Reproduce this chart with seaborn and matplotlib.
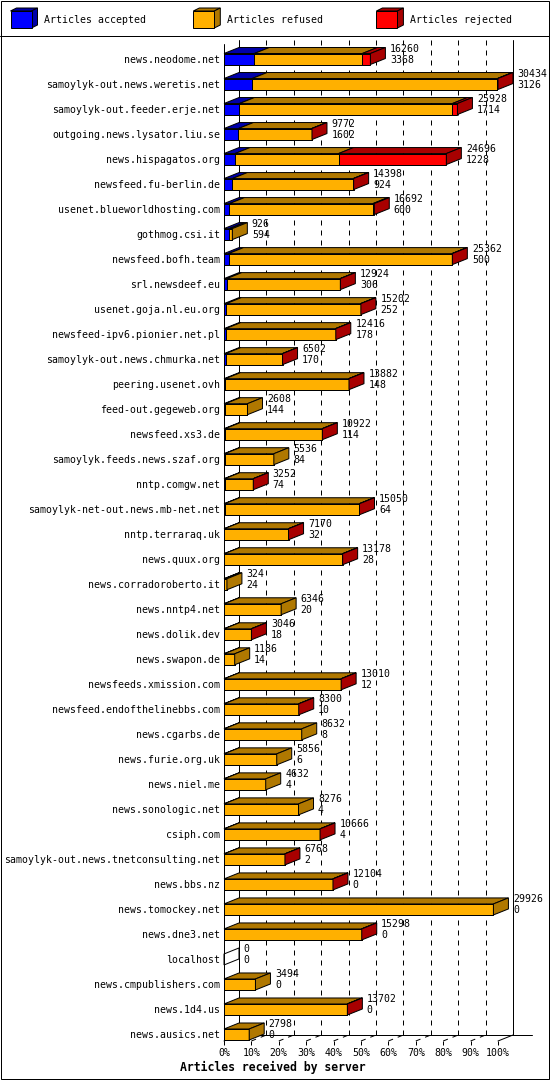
import numpy as np
import pandas as pd
import matplotlib
matplotlib.use("Agg")
import matplotlib.pyplot as plt
import seaborn as sns
from matplotlib.patches import Polygon, Rectangle

# ---------------- data ----------------
servers = [
    "news.neodome.net", "samoylyk-out.news.weretis.net", "samoylyk-out.feeder.erje.net",
    "outgoing.news.lysator.liu.se", "news.hispagatos.org", "newsfeed.fu-berlin.de",
    "usenet.blueworldhosting.com", "gothmog.csi.it", "newsfeed.bofh.team", "srl.newsdeef.eu",
    "usenet.goja.nl.eu.org", "newsfeed-ipv6.pionier.net.pl", "samoylyk-out.news.chmurka.net",
    "peering.usenet.ovh", "feed-out.gegeweb.org", "newsfeed.xs3.de",
    "samoylyk.feeds.news.szaf.org", "nntp.comgw.net", "samoylyk-net-out.news.mb-net.net",
    "nntp.terraraq.uk", "news.quux.org", "news.corradoroberto.it", "news.nntp4.net",
    "news.dolik.dev", "news.swapon.de", "newsfeeds.xmission.com", "newsfeed.endofthelinebbs.com",
    "news.cgarbs.de", "news.furie.org.uk", "news.niel.me", "news.sonologic.net", "csiph.com",
    "samoylyk-out.news.tnetconsulting.net", "news.bbs.nz", "news.tomockey.net", "news.dne3.net",
    "localhost", "news.cmpublishers.com", "news.1d4.us", "news.ausics.net",
]
totals = [16260, 30434, 25928, 9772, 24696, 14398, 16692, 926, 25362, 12924,
          15202, 12416, 6502, 13882, 2608, 10922, 5536, 3252, 15050, 7170,
          13178, 324, 6346, 3046, 1186, 13010, 8300, 8632, 5856, 4632,
          8276, 10666, 6768, 12104, 29926, 15298, 0, 3494, 13702, 2798]
accepted = [3368, 3126, 1714, 1602, 1228, 924, 600, 594, 500, 306,
            252, 178, 170, 148, 144, 114, 84, 74, 64, 32,
            28, 24, 20, 18, 14, 12, 10, 8, 6, 4,
            4, 4, 2, 0, 0, 0, 0, 0, 0, 0]
rejected = [900, 60, 560, 30, 11970, 40, 150, 0, 40, 30,
            30, 30, 20, 30, 0, 20, 0, 10, 30, 20,
            20, 0, 0, 10, 0, 20, 10, 0, 0, 0,
            0, 10, 10, 20, 0, 20, 0, 0, 20, 0]
tick_labels = ["0%", "10%", "20%", "30%", "40%", "50%", "60%", "70%", "80%", "90%", "100%"]
legend_labels = ["Articles accepted", "Articles refused", "Articles rejected"]
x_title = "Articles received by server"

# ---------------- style ----------------
BLUE, BLUE_D = "#0000FF", "#0000A8"
ORANGE, ORANGE_D = "#FFB000", "#B07800"
RED, RED_D = "#FF0000", "#A80000"

W, H, DPI = 550, 1080, 100
PT = 72.0 / DPI  # points per pixel
sns.set_theme(style="white")
plt.rcParams["font.family"] = ["DejaVu Sans Mono"]
plt.rcParams["lines.scale_dashes"] = False
FS = 7.1

df = pd.DataFrame({"server": servers, "total": totals,
                   "accepted": accepted, "rejected": rejected})
df["refused"] = df["total"] - df["accepted"] - df["rejected"]
scale = 100.0 / df["total"].max()
df["acc_pct"] = df["accepted"] * scale
df["ar_pct"] = (df["accepted"] + df["refused"]) * scale
df["tot_pct"] = df["total"] * scale

fig = plt.figure(figsize=(W / DPI, H / DPI), dpi=DPI)
fig.patch.set_facecolor("white")


def fx(px):
    return px / W


def fy(py):
    return 1 - py / H


AX_L, AX_R, AX_T, AX_B = 224, 498, 40, 1041
ax = fig.add_axes([fx(AX_L), fy(AX_B), (AX_R - AX_L) / W, (AX_B - AX_T) / H])
ax.set_facecolor("none")

n = len(servers)
Y0, Y1 = n - 1 + 0.26, -0.76
sx = (AX_R - AX_L) / 100.0          # px per percent
sy = (AX_B - AX_T) / (Y0 - Y1)      # px per row
DX = 15 / sx
DY = 6 / sy
BAR_H = 11 / sy
LW = 1 * PT

# front faces via seaborn (stacked by overlay)
common = dict(y="server", order=servers, orient="h", width=BAR_H, saturation=1,
              edgecolor="black", linewidth=LW, errorbar=None, ax=ax, zorder=3)
sns.barplot(data=df, x="tot_pct", color=RED, **common)
sns.barplot(data=df, x="ar_pct", color=ORANGE, **common)
sns.barplot(data=df, x="acc_pct", color=BLUE, **common)

# 3D top and side faces
for i, row in df.iterrows():
    yt, yb = i - BAR_H / 2, i + BAR_H / 2
    segs = [(0, row.acc_pct, BLUE_D), (row.acc_pct, row.ar_pct, ORANGE_D),
            (row.ar_pct, row.tot_pct, RED_D)]
    last = None
    for x0, x1, c in segs:
        if x1 - x0 > 0:
            ax.add_patch(Polygon([(x0, yt), (x1, yt), (x1 + DX, yt - DY), (x0 + DX, yt - DY)],
                                 closed=True, facecolor=c, edgecolor="black", lw=LW,
                                 zorder=3, clip_on=False))
            last = c
    xe = row.tot_pct
    ax.add_patch(Polygon([(xe, yt), (xe + DX, yt - DY), (xe + DX, yb - DY), (xe, yb)],
                         closed=True, facecolor=last if last else "white",
                         edgecolor="black", lw=LW, zorder=3, clip_on=False))
    # value labels
    ax.annotate(f"{row.total}", xy=(xe + DX, i), xytext=(4.5 * PT, 10 * PT),
                textcoords="offset points", ha="left", va="center", fontsize=FS,
                color="black", zorder=5, annotation_clip=False)
    ax.annotate(f"{row.accepted}", xy=(xe + DX, i), xytext=(4.5 * PT, -0.5 * PT),
                textcoords="offset points", ha="left", va="center", fontsize=FS,
                color="black", zorder=5, annotation_clip=False)

# walls, grid and floor
y_back_floor = Y0 - DY
dash = (0, (5 * PT, 5 * PT))
for k in range(11):
    xb = k * 10 + DX
    style = "-" if k in (0, 10) else dash
    ax.plot([xb, xb], [Y1, y_back_floor], color="black", lw=LW, linestyle=style,
            zorder=1, clip_on=False)
    ax.plot([k * 10, xb], [Y0, y_back_floor], color="black", lw=LW, linestyle=style,
            zorder=1, clip_on=False)
ax.plot([DX, 100 + DX + 19 / sx], [y_back_floor, y_back_floor], color="black", lw=LW,
        zorder=1, clip_on=False)
ax.plot([0, 0], [Y1 + 4 / sy, Y0], color="black", lw=LW, zorder=4, clip_on=False)

ax.set_xlim(0, 100)
ax.set_ylim(Y0, Y1)
for s in ax.spines.values():
    s.set_visible(False)
ax.set_xticks(np.arange(0, 101, 10))
ax.set_xticklabels(tick_labels)
ax.tick_params(axis="x", length=4 * PT, width=LW, color="black", direction="out",
               pad=3 * PT, labelsize=FS, labelcolor="black", bottom=True)
ax.tick_params(axis="y", length=0, pad=4 * PT, labelsize=FS, labelcolor="black")
ax.set_xlabel("")
ax.set_ylabel("")
ax.grid(False)

# title
fig.text(fx(273), fy(1067), x_title, ha="center", va="center", fontsize=8.3,
         fontweight="bold", color="black")

# legend (3D cubes)
leg = [(10.5, BLUE, BLUE_D), (193.3, ORANGE, ORANGE_D), (376.4, RED, RED_D)]
for (lx, c, cd), lab in zip(leg, legend_labels):
    t, b, w, ddx, ddy = 11, 28, 21, 6, 3
    def P(pts):
        return [(fx(px), fy(py)) for px, py in pts]
    fig.add_artist(Polygon(P([(lx, t), (lx + w, t), (lx + w + ddx, t - ddy), (lx + ddx, t - ddy)]),
                           closed=True, facecolor=cd, edgecolor="black", lw=LW,
                           transform=fig.transFigure))
    fig.add_artist(Polygon(P([(lx + w, t), (lx + w + ddx, t - ddy), (lx + w + ddx, b - ddy), (lx + w, b)]),
                           closed=True, facecolor=cd, edgecolor="black", lw=LW,
                           transform=fig.transFigure))
    fig.add_artist(Polygon(P([(lx, t), (lx + w, t), (lx + w, b), (lx, b)]),
                           closed=True, facecolor=c, edgecolor="black", lw=LW,
                           transform=fig.transFigure))
    fig.text(fx(lx + 34), fy(20), lab, ha="left", va="center", fontsize=FS, color="black")

# separator and frame
fig.add_artist(plt.Line2D([0, 1], [fy(35.5), fy(35.5)], color="black", lw=LW,
                          transform=fig.transFigure))
fig.add_artist(Rectangle((fx(0.5), fy(1078.5)), 548 / W, 1078 / H, fill=False,
                         edgecolor="black", lw=LW, transform=fig.transFigure))

fig.savefig("out.png", dpi=DPI, facecolor="white")
